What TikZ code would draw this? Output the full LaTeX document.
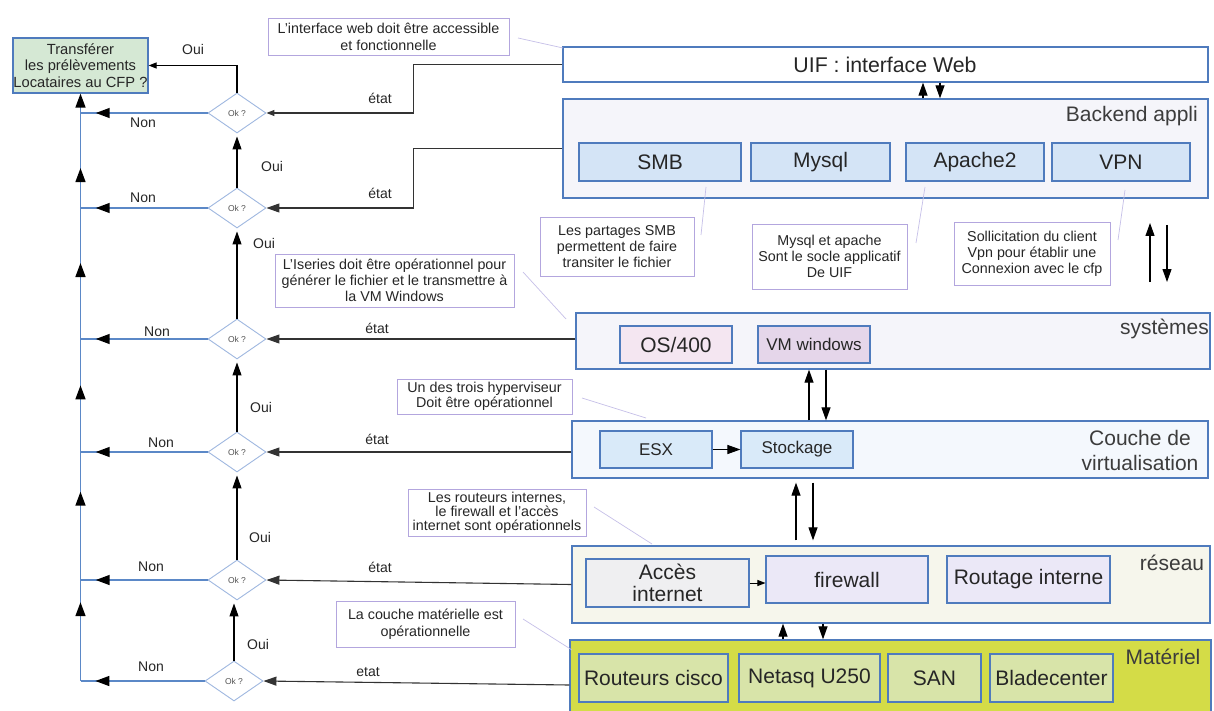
\documentclass[tikz,border=0pt]{standalone}
\usepackage{fontspec}
\setmainfont{Liberation Sans}
\usetikzlibrary{shapes.geometric,arrows.meta,decorations.markings,calc}

\definecolor{ink}{HTML}{262626}
\definecolor{frame}{HTML}{4F7BBD}
\definecolor{busblue}{HTML}{5B88C7}
\definecolor{diaedge}{HTML}{9FB8E0}
\definecolor{okink}{HTML}{555555}
\definecolor{notedge}{HTML}{B3A6DE}
\definecolor{tieline}{HTML}{C6C0E8}
\definecolor{stateink}{HTML}{333333}
\definecolor{goalfill}{HTML}{D5E8D4}
\definecolor{appfill}{HTML}{F5F5FA}
\definecolor{svcfill}{HTML}{D4E4F6}
\definecolor{osfill}{HTML}{F4E6F1}
\definecolor{vmfill}{HTML}{E5D6EA}
\definecolor{virtfill}{HTML}{F4F8FD}
\definecolor{hvfill}{HTML}{D9EAF9}
\definecolor{netfill}{HTML}{F6F6EC}
\definecolor{wanfill}{HTML}{EFEFF1}
\definecolor{fwfill}{HTML}{EBE8F7}
\definecolor{hwfill}{HTML}{D4DC47}
\definecolor{devfill}{HTML}{D8E4A9}

\tikzset{
  BigT/.tip={Triangle[length=13pt,width=9pt]},
  SmallT/.tip={Triangle[length=8pt,width=6pt]},
  BusT/.tip={Triangle[length=14pt,width=10pt,color=black]},
}

\begin{document}
\begin{tikzpicture}[x=1pt,y=-1pt,
  every node/.style={text=ink},
  layer/.style={draw=frame, line width=1.3pt, inner sep=0pt},
  part/.style={draw=frame, line width=1.1pt, inner sep=0pt, align=center,
               font=\fontsize{21}{22}\selectfont},
  smallpart/.style={part, font=\fontsize{17}{20}\selectfont},
  note/.style={draw=notedge, line width=0.9pt, fill=white, inner sep=0pt,
               align=center, font=\fontsize{14.3}{16}\selectfont},
  tie/.style={draw=tieline, line width=0.7pt},
  title/.style={font=\fontsize{21}{25}\selectfont, inner sep=0pt, text=ink!90},
  lab/.style={font=\fontsize{14}{16}\selectfont, inner sep=0pt},
  test/.style={diamond, draw=diaedge, line width=0.9pt, fill=white,
               minimum width=58pt, minimum height=40pt, inner sep=0pt,
               font=\fontsize{8.5}{10}\selectfont, text=okink},
  nonline/.style={draw=busblue, line width=1.5pt},
  yesline/.style={draw=black, line width=1.1pt},
  stateline/.style={draw=stateink, line width=1.1pt},
  flow/.style={draw=black, line width=1.1pt},
  markat/.style={postaction=decorate,
    decoration={markings, mark=at position #1 with {\arrow{BusT}}}},
]
\useasboundingbox (0,0) rectangle (1214,711);
\fill[white] (0,0) rectangle (1214,711);

% ---------- layer stack ----------
\node[layer, fill=white, minimum width=645pt, minimum height=35pt] (uif) at (885.5,64.5) {};
\node[font=\fontsize{21.3}{24}\selectfont, inner sep=0pt] (uiftxt) at (885,64.5) {UIF : interface Web};

\node[layer, fill=appfill, minimum width=645pt, minimum height=99pt] (backend) at (885.5,148.5) {};
\node[title, anchor=east] (backtxt) at (1198,116) {Backend appli};
\node[part, fill=svcfill, minimum width=162pt, minimum height=38pt] (smb) at (660,162) {SMB};
\node[part, fill=svcfill, minimum width=139pt, minimum height=38pt] (mysql) at (820.5,162) {Mysql};
\node[part, fill=svcfill, minimum width=138pt, minimum height=38pt] (apache) at (975,162) {Apache2};
\node[part, fill=svcfill, minimum width=138pt, minimum height=38pt] (vpn) at (1121,162) {VPN};

\node[layer, fill=appfill, minimum width=634pt, minimum height=56pt] (sys) at (893,341) {};
\node[title, anchor=east] (systxt) at (1209,329) {systèmes};
\node[part, fill=osfill, minimum width=112pt, minimum height=37pt] (os400) at (676,344.5) {OS/400};
\node[smallpart, fill=vmfill, minimum width=112pt, minimum height=37pt] (vmwin) at (814,344.5) {VM windows};

\node[layer, fill=virtfill, minimum width=636pt, minimum height=57pt] (virt) at (890,449.5) {};
\node[title, align=center] (virttxt) at (1140,450) {Couche de\\virtualisation};
\node[smallpart, fill=hvfill, minimum width=112pt, minimum height=37pt] (esx) at (656,449.5) {ESX};
\node[smallpart, fill=hvfill, minimum width=112pt, minimum height=37pt] (stock) at (797,449.5) {Stockage};

\node[layer, fill=netfill, minimum width=638pt, minimum height=77pt] (net) at (891,584.5) {};
\node[title] (nettxt) at (1172,563) {réseau};
\node[part, fill=wanfill, minimum width=163pt, minimum height=48pt] (wan) at (667.5,583) {Accès\\internet};
\node[part, fill=fwfill, minimum width=162pt, minimum height=47pt] (fw) at (847,579.5) {firewall};
\node[part, fill=fwfill, minimum width=163pt, minimum height=47pt] (lan) at (1028.5,579.5) {Routage interne};

\node[layer, fill=hwfill, minimum width=641pt, minimum height=90pt] (hw) at (890.5,685) {};
\node[title] (hwtxt) at (1163,657) {Matériel};
\node[part, fill=devfill, minimum width=149pt, minimum height=48pt] (cisco) at (653.5,678) {Routeurs cisco};
\node[part, fill=devfill, minimum width=141pt, minimum height=48pt] (netasq) at (809.5,678) {Netasq U250};
\node[part, fill=devfill, minimum width=93pt, minimum height=48pt] (san) at (934.5,678) {SAN};
\node[part, fill=devfill, minimum width=123pt, minimum height=48pt] (blade) at (1051.5,678) {Bladecenter};

% arrows between layers
\draw[flow, -BigT] (923,0 |- backend.north) -- (923,0 |- uif.south);
\draw[flow, -BigT] (940,0 |- uif.south) -- (940,0 |- backend.north);
\coordinate (vpnup0) at (1150,282);
\coordinate (vpnup1) at (1150,223);
\coordinate (vpndn0) at (1167,225);
\coordinate (vpndn1) at (1167,282);
\draw[flow, -BigT] (vpnup0) -- (vpnup1);
\draw[flow, -BigT] (vpndn0) -- (vpndn1);
\draw[flow, -BigT] (809,0 |- virt.north) -- (809,0 |- sys.south);
\draw[flow, -BigT] (826,0 |- sys.south) -- (826,0 |- virt.north);
\draw[flow, -BigT, shorten <=5pt, shorten >=4pt] (796,0 |- net.north) -- (796,0 |- virt.south);
\draw[flow, -BigT, shorten <=4pt, shorten >=5pt] (813,0 |- virt.south) -- (813,0 |- net.north);
\draw[flow, -BigT] (783,0 |- hw.north) -- (783,0 |- net.south);
\draw[flow, -BigT] (823,0 |- net.south) -- (823,0 |- hw.north);
\draw[flow, -BigT, line width=1pt] (esx.east) -- (stock.west);
\draw[flow, -SmallT, line width=1pt] (wan.east) -- (wan.east -| fw.west);

% ---------- notes ----------
\node[note, minimum width=241pt, minimum height=37pt, font=\fontsize{14.3}{17}\selectfont] (n1) at (388.5,36.5)
  {L'interface web doit être accessible\\et fonctionnelle};
\node[note, minimum width=154pt, minimum height=59pt] (n2) at (617,246.5)
  {Les partages SMB\\permettent de faire\\transiter le fichier};
\node[note, minimum width=155pt, minimum height=65pt] (n3) at (829.5,256.5)
  {Mysql et apache\\Sont le socle applicatif\\De UIF};
\node[note, minimum width=156pt, minimum height=63pt] (n4) at (1032,253.5)
  {Sollicitation du client\\Vpn pour établir une\\Connexion avec le cfp};
\node[note, minimum width=239pt, minimum height=53pt] (n5) at (394.5,280.5)
  {L'Iseries doit être opérationnel pour\\générer le fichier et le transmettre à\\la VM Windows};
\node[note, minimum width=175pt, minimum height=35pt, font=\fontsize{14.3}{14.5}\selectfont] (n6) at (484.5,396.5)
  {Un des trois hyperviseur\\Doit être opérationnel};
\node[note, minimum width=178pt, minimum height=47pt, font=\fontsize{14.3}{14}\selectfont] (n7) at (497,512.5)
  {Les routeurs internes,\\le firewall et l'accès\\internet sont opérationnels};
\node[note, minimum width=179pt, minimum height=46pt, font=\fontsize{14.3}{17}\selectfont] (n8) at (425.5,624)
  {La couche matérielle est\\opérationnelle};

% thin ties from notes to what they describe
\coordinate (t1a) at (518,38);   \coordinate (t1b) at (563,48);
\coordinate (t2a) at (706,187);  \coordinate (t2b) at (701,235);
\coordinate (t3a) at (925,187);  \coordinate (t3b) at (916,243);
\coordinate (t4a) at (1125,190); \coordinate (t4b) at (1118,240);
\coordinate (t5a) at (523,272);  \coordinate (t5b) at (566,319);
\coordinate (t6a) at (582,398);  \coordinate (t6b) at (646,418);
\coordinate (t7a) at (594,507);  \coordinate (t7b) at (652,544);
\coordinate (t8a) at (523,619);  \coordinate (t8b) at (572,650);
\foreach \k in {1,...,8} { \draw[tie] (t\k a) -- (t\k b); }

% ---------- decision chain ----------
\node[draw=frame, line width=1.2pt, fill=goalfill, minimum width=135pt, minimum height=55pt,
      inner sep=0pt, align=center, font=\fontsize{14.7}{16.5}\selectfont] (goal) at (80.5,65.5)
  {Transférer\\les prélèvements\\Locataires au CFP ?};

\node[test] (d1) at (237,113) {Ok ?};
\node[test] (d2) at (237,208) {Ok ?};
\node[test] (d3) at (237,339) {Ok ?};
\node[test] (d4) at (237,452) {Ok ?};
\node[test] (d5) at (237,580) {Ok ?};
\node[test] (d6) at (234,681) {Ok ?};

% junctions on the return bus
\foreach \k in {1,...,6} { \coordinate (j\k) at (goal.south |- d\k.west); }

% "Non" branches
\foreach \k in {1,...,6} { \draw[nonline, markat=0.88] (d\k.west) -- (j\k); }
% return bus
\draw[nonline, markat=0.78] (j6) -- (j5);
\draw[nonline, markat=0.69] (j5) -- (j4);
\draw[nonline, markat=0.59] (j4) -- (j3);
\draw[nonline, markat=0.58] (j3) -- (j2);
\draw[nonline, markat=0.42] (j2) -- (j1);
\draw[nonline, -BusT] (j1) -- (goal.south);

% "Oui" branches
\draw[yesline, -SmallT] (d1.north) |- (goal.east);
\draw[yesline, -BigT, shorten >=3pt] (d2.north) -- (d1.south);
\draw[yesline, -BigT, shorten >=3pt] (d3.north) -- (d2.south);
\draw[yesline, -BigT, shorten >=3pt] (d4.north) -- (d3.south);
\draw[yesline, -BigT, shorten >=3pt] (d5.north) -- (d4.south);
\draw[yesline, -BigT, shorten >=3pt] (d6.north) -- (d6.north |- d5.south);

% state of each layer fed into its test
\draw[stateline, -SmallT] (uif.west) -- ++(-149,0) |- (d1.east);
\draw[stateline, -BigT] (backend.west) -- ++(-149,0) |- (d2.east);
\draw[stateline, -BigT] (d3.east -| sys.west) -- (d3.east);
\draw[stateline, -BigT] (d4.east -| virt.west) -- (d4.east);
\draw[stateline, -BigT] (net.west) -- (d5.east);
\draw[stateline, -BigT] (hw.west) -- (d6.east);

% labels
\node[lab] (oui1) at (193,49) {Oui};
\node[lab] (oui2) at (272,166) {Oui};
\node[lab] (oui3) at (264,243) {Oui};
\node[lab] (oui4) at (261,407) {Oui};
\node[lab] (oui5) at (260,537) {Oui};
\node[lab] (oui6) at (258,644) {Oui};
\node[lab] (non1) at (143,123) {Non};
\node[lab] (non2) at (143,198) {Non};
\node[lab] (non3) at (157,332) {Non};
\node[lab] (non4) at (161,443) {Non};
\node[lab] (non5) at (151,567) {Non};
\node[lab] (non6) at (151,667) {Non};
\node[lab] (st1) at (380,98) {état};
\node[lab] (st2) at (380,193) {état};
\node[lab] (st3) at (377,328) {état};
\node[lab] (st4) at (377,439) {état};
\node[lab] (st5) at (380,567) {état};
\node[lab] (st6) at (368,672) {etat};
\end{tikzpicture}
\end{document}
